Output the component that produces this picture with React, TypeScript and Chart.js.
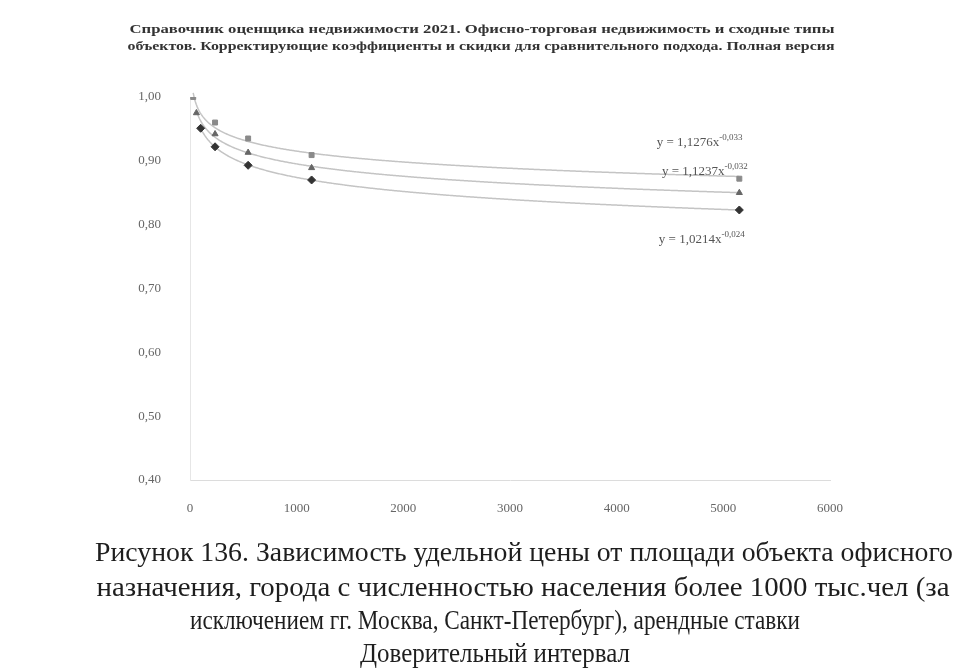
import React, { useEffect, useRef } from "react";
import { Chart, registerables } from "chart.js";

Chart.register(...registerables);

// ---------- text ----------
const TITLE_LINES = [
  "Справочник оценщика недвижимости 2021. Офисно-торговая недвижимость и сходные типы",
  "объектов. Корректирующие коэффициенты и скидки для сравнительного подхода. Полная версия",
];
const CAPTION_LINES = [
  "Рисунок 136. Зависимость удельной цены от площади объекта офисного",
  "назначения, города с численностью населения более 1000 тыс.чел (за",
  "исключением гг. Москва, Санкт-Петербург), арендные ставки",
  "Доверительный интервал",
];

// ---------- data ----------
const upperX = [30, 235, 545, 1140, 5150];
const upperY = [1.0, 0.96, 0.935, 0.909, 0.872];
const meanX = [60, 235, 545, 1140, 5150];
const meanY = [0.975, 0.942, 0.913, 0.889, 0.85];
const lowerX = [100, 235, 545, 1140, 5150];
const lowerY = [0.951, 0.922, 0.893, 0.87, 0.823];

const xTicks = [0, 1000, 2000, 3000, 4000, 5000, 6000];
const yTicks = [0.4, 0.5, 0.6, 0.7, 0.8, 0.9, 1.0];

const eqMain = ["y = 1,1276x", "y = 1,1237x", "y = 1,0214x"];
const eqExp = ["-0,033", "-0,032", "-0,024"];
const eqAnchorX = [5180, 5230, 5200];
const eqAnchorY = [0.928, 0.883, 0.777];

const toPoints = (xs: number[], ys: number[]) => xs.map((x, i) => ({ x, y: ys[i] }));

function powerFit(xs: number[], ys: number[]) {
  const n = xs.length;
  let sx = 0, sy = 0, sxx = 0, sxy = 0;
  for (let i = 0; i < n; i++) {
    const lx = Math.log(xs[i]);
    const ly = Math.log(ys[i]);
    sx += lx; sy += ly; sxx += lx * lx; sxy += lx * ly;
  }
  const b = (n * sxy - sx * sy) / (n * sxx - sx * sx);
  const a = Math.exp((sy - b * sx) / n);
  return { a, b, min: Math.min(...xs), max: Math.max(...xs) };
}

const SERIES = [
  { xs: upperX, ys: upperY },
  { xs: meanX, ys: meanY },
  { xs: lowerX, ys: lowerY },
];

function fitText(ctx: CanvasRenderingContext2D, text: string, cx: number, cy: number, width: number, font: string, color: string) {
  ctx.save();
  ctx.font = font;
  ctx.fillStyle = color;
  ctx.textAlign = "center";
  ctx.textBaseline = "middle";
  const w = ctx.measureText(text).width;
  const s = width / w;
  ctx.translate(cx, cy);
  ctx.scale(s, 1);
  ctx.fillText(text, 0, 0);
  ctx.restore();
}

const decorPlugin = {
  id: "decor",
  beforeDatasetsDraw(chart: any) {
    const { ctx, scales } = chart;
    const xs = scales.x, ys = scales.y;
    ctx.save();
    ctx.strokeStyle = "#c4c4c4";
    ctx.lineWidth = 1.5;
    SERIES.forEach((s) => {
      const f = powerFit(s.xs, s.ys);
      const p0 = xs.getPixelForValue(f.min);
      const p1 = xs.getPixelForValue(f.max);
      ctx.beginPath();
      for (let px = p0; px <= p1; px += 1) {
        const v = xs.getValueForPixel(px);
        const py = ys.getPixelForValue(f.a * Math.pow(v, f.b));
        if (px === p0) ctx.moveTo(px, py);
        else ctx.lineTo(px, py);
      }
      ctx.stroke();
    });
    ctx.restore();
  },
  afterDraw(chart: any) {
    const { ctx, scales } = chart;
    // title
    fitText(ctx, TITLE_LINES[0], 482, 30, 705, "bold 13px 'Liberation Serif'", "#333");
    fitText(ctx, TITLE_LINES[1], 481, 47, 707, "bold 13px 'Liberation Serif'", "#333");
    // caption
    const capCenters = [524, 523, 495, 495];
    const capY = [554, 589, 622, 655];
    const capW = [858, 853, 610, 270];
    CAPTION_LINES.forEach((t, i) =>
      fitText(ctx, t, capCenters[i], capY[i], capW[i], "27px 'Liberation Serif'", "#1e1e1e")
    );
    // trendline equations
    ctx.save();
    ctx.fillStyle = "#555";
    ctx.textBaseline = "middle";
    eqMain.forEach((t, i) => {
      const rx = scales.x.getPixelForValue(eqAnchorX[i]);
      const ry = scales.y.getPixelForValue(eqAnchorY[i]);
      ctx.font = "9px 'Liberation Serif'";
      const we = ctx.measureText(eqExp[i]).width;
      ctx.font = "13px 'Liberation Serif'";
      const wm = ctx.measureText(t).width;
      const left = rx - we - wm;
      ctx.textAlign = "left";
      ctx.fillText(t, left, ry);
      ctx.font = "9px 'Liberation Serif'";
      ctx.fillText(eqExp[i], left + wm, ry - 5);
    });
    ctx.restore();
  },
};

export default function App() {
  const ref = useRef<HTMLCanvasElement | null>(null);
  useEffect(() => {
    if (!ref.current) return;
    const chart = new Chart(ref.current, {
      type: "scatter",
      data: {
        datasets: [
          {
            label: "upper",
            data: toPoints(upperX, upperY),
            pointStyle: "rect",
            pointRadius: 3.5,
            backgroundColor: "#8a8a8a",
            borderColor: "#8a8a8a",
          },
          {
            label: "mean",
            data: toPoints(meanX, meanY),
            pointStyle: "triangle",
            pointRadius: 3.5,
            backgroundColor: "#666",
            borderColor: "#666",
          },
          {
            label: "lower",
            data: toPoints(lowerX, lowerY),
            pointStyle: "rectRot",
            pointRadius: 4,
            backgroundColor: "#333",
            borderColor: "#333",
          },
        ],
      },
      options: {
        responsive: false,
        animation: false,
        devicePixelRatio: 1,
        layout: { padding: { left: 110, right: 128, top: 97, bottom: 150 } },
        plugins: {
          legend: { display: false },
          title: { display: false },
          tooltip: { enabled: false },
        },
        scales: {
          x: {
            type: "linear",
            min: xTicks[0],
            max: xTicks[xTicks.length - 1],
            afterBuildTicks: (s: any) => {
              s.ticks = xTicks.map((v) => ({ value: v }));
            },
            afterFit: (s: any) => {
              s.height = 40;
            },
            ticks: {
              callback: (v: any) => String(v),
              font: { family: "'Liberation Serif'", size: 13 },
              color: "#666",
              padding: 13,
              maxRotation: 0,
            },
            grid: { display: false },
            border: { display: true, color: "#dcdcdc", width: 1 },
          },
          y: {
            type: "linear",
            min: yTicks[0],
            max: yTicks[yTicks.length - 1],
            afterBuildTicks: (s: any) => {
              s.ticks = yTicks.map((v) => ({ value: v }));
            },
            afterFit: (s: any) => {
              s.width = 80;
            },
            ticks: {
              callback: (v: any) => Number(v).toFixed(2).replace(".", ","),
              font: { family: "'Liberation Serif'", size: 13 },
              color: "#666",
              padding: 21,
            },
            grid: { display: false },
            border: { display: true, color: "#e6e6e6", width: 1 },
          },
        },
      },
      plugins: [decorPlugin],
    } as any);
    return () => chart.destroy();
  }, []);
  return (
    <div style={{ position: "fixed", left: 0, top: 0, width: 958, height: 670, background: "#fff" }}>
      <canvas ref={ref} width={958} height={670} style={{ display: "block", width: 958, height: 670 }} />
    </div>
  );
}
